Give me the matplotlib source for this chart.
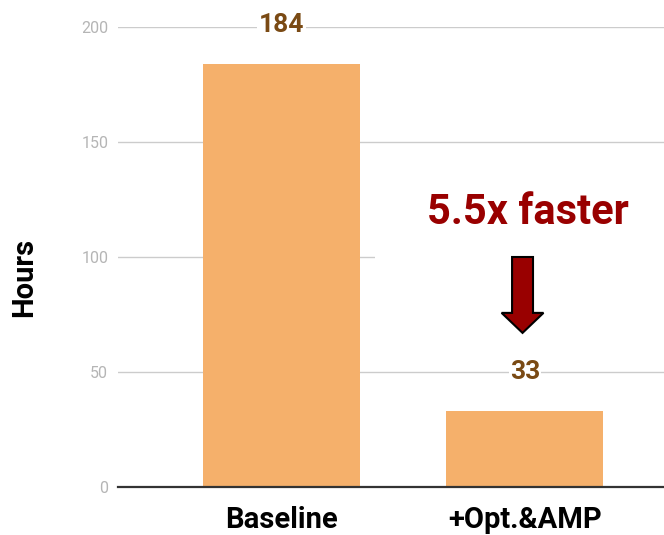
import matplotlib
matplotlib.use("Agg")
import matplotlib.pyplot as plt
import matplotlib.patches as mpatches

categories = ["Baseline", "+Opt.&AMP"]
hours = [184, 33]
yticks = [0, 50, 100, 150, 200]
speedup_text = "5.5x faster"

plt.rcParams["font.family"] = "Roboto"

fig = plt.figure(figsize=(6.64, 5.35), dpi=100)
ax = fig.add_axes([118 / 664, 48 / 535, 546 / 664, 460 / 535])

x = list(range(len(categories)))
bars = ax.bar(x, hours, width=0.645, color="#F5B06B", zorder=2)

# 数值标注, 白底盖住网格线
for xi, h in zip(x, hours):
    ax.annotate(str(h), (xi, h), xytext=(0, 23), textcoords="offset points",
                ha="center", va="baseline", fontsize=19, fontweight="bold",
                color="#7A4A14", zorder=4,
                bbox=dict(boxstyle="square,pad=0.05", fc="white", ec="none"))

ax.set_xlim(-0.6715, 1.571)
ax.set_ylim(0, 200)
ax.set_yticks(yticks)
ax.set_xticks(x)
ax.set_xticklabels(categories, fontsize=21, fontweight="bold", color="black")
ax.tick_params(axis="x", length=0, pad=14)
ax.tick_params(axis="y", length=0, pad=7, labelsize=11.5, labelcolor="#B5B5B5")

for s in ["top", "right", "left"]:
    ax.spines[s].set_visible(False)
ax.spines["bottom"].set_color("#333333")
ax.spines["bottom"].set_linewidth(1.6)
ax.spines["bottom"].set_zorder(3)

ax.grid(axis="y", color="#CCCCCC", linewidth=1, zorder=0)
ax.set_axisbelow(True)

ax.set_ylabel("Hours", fontsize=21, fontweight="bold")
ax.yaxis.label.set_va("center")
ax.yaxis.set_label_coords(-0.172, 0.4565)

# 标注区域的白色底块
ax.add_patch(mpatches.Rectangle((0.384, 61.7), 1.3, 74, fc="white", ec="none",
                                zorder=1.5))

ax.text(1.012, 114.3, speedup_text, ha="center", va="baseline", fontsize=30,
        fontweight="bold", color="#990000", zorder=4)

arrow = mpatches.FancyArrow(0.99, 100, 0, -33, width=0.086, head_width=0.172,
                            head_length=8.7, length_includes_head=True,
                            fc="#990000", ec="black", lw=1.5, zorder=4)
ax.add_patch(arrow)

fig.savefig("out.png", dpi=100)
